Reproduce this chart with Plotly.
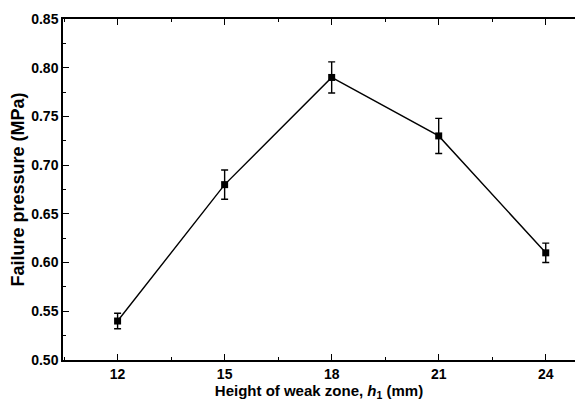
import plotly.graph_objects as go

heights = [12, 15, 18, 21, 24]
pressure = [0.54, 0.68, 0.79, 0.73, 0.61]
err = [0.008, 0.015, 0.016, 0.018, 0.010]

x_ticks = [12, 15, 18, 21, 24]
y_ticks = [0.50, 0.55, 0.60, 0.65, 0.70, 0.75, 0.80, 0.85]

FONT = "Liberation Sans, Arial, sans-serif"

fig = go.Figure()
fig.add_trace(go.Scatter(
    x=heights, y=pressure,
    mode="lines+markers",
    line=dict(color="black", width=1.4),
    marker=dict(symbol="square", size=7, color="black"),
    error_y=dict(type="data", array=err, visible=True, color="black",
                 thickness=1.4, width=3.5),
    showlegend=False,
))

fig.update_layout(
    width=575, height=410,
    margin=dict(l=63, r=0, t=19, b=50),
    paper_bgcolor="white", plot_bgcolor="white",
    font=dict(family=FONT, color="black"),
)
fig.update_xaxes(
    range=[10.47, 24.82], automargin=False,
    tickvals=x_ticks, ticktext=[f"<b>{v}</b>" for v in x_ticks],
    ticks="inside", ticklen=6, tickwidth=1.2, tickcolor="black",
    showline=True, linecolor="black", linewidth=1.5, mirror="ticks",
    showgrid=False, zeroline=False,
    tickfont=dict(size=14, family=FONT),
    minor=dict(tick0=10.5, dtick=1.5, ticks="inside", ticklen=3, tickcolor="black", tickwidth=1.2),
    title=dict(text="<b>Height of weak zone, <i>h</i><sub>1</sub> (mm)</b>",
               font=dict(size=15, family=FONT), standoff=5),
)
fig.update_yaxes(
    range=[0.50, 0.85], automargin=False,
    tickvals=y_ticks, ticktext=[f"<b>{v:.2f}</b>" for v in y_ticks],
    ticks="inside", ticklen=6, tickwidth=1.2, tickcolor="black",
    showline=True, linecolor="black", linewidth=1.5,
    showgrid=False, zeroline=False,
    tickfont=dict(size=14, family=FONT),
    minor=dict(dtick=0.025, ticks="inside", ticklen=3, tickcolor="black", tickwidth=1.2),
    title=dict(text="<b>Failure pressure (MPa)</b>",
               font=dict(size=18, family=FONT), standoff=2),
)

fig.write_html("out.html",
               config={"displayModeBar": False},
               post_script="document.body.style.margin='0';document.body.style.overflow='hidden';")
